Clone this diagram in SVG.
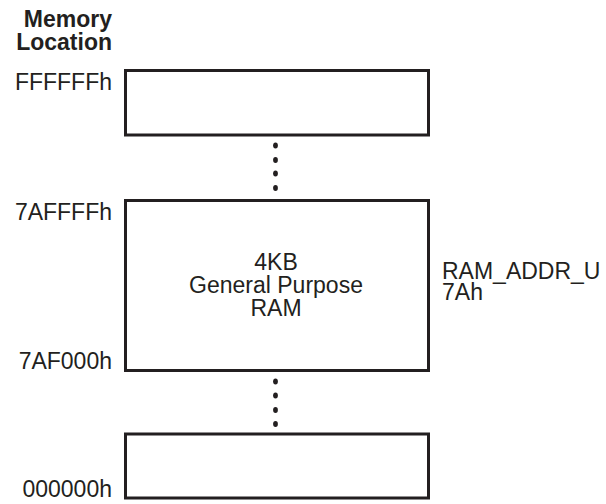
<svg xmlns="http://www.w3.org/2000/svg" width="606" height="504" viewBox="0 0 606 504">
<style>
text{font-family:"Liberation Sans",Arial,sans-serif;font-size:23px;fill:#231f20}
.b{font-weight:bold}
.r{text-anchor:end}
.m{text-anchor:middle}
.box{fill:#fff;stroke:#231f20;stroke-width:3}
.dot{fill:#231f20}
</style>
<rect width="606" height="504" fill="#fff"/>
<g id="header">
<text class="b r" x="112" y="27">Memory</text>
<text class="b r" x="112" y="49.5">Location</text>
</g>
<g id="top-block">
<rect class="box" x="125.5" y="70.5" width="303" height="64.5"/>
<text class="r" x="112" y="89.5">FFFFFFh</text>
</g>
<g id="ram-block">
<rect class="box" x="125.5" y="200.5" width="303" height="170"/>
<text class="r" x="112" y="220">7AFFFFh</text>
<text class="r" x="112" y="368.5">7AF000h</text>
<text class="m" x="276" y="270">4KB</text>
<text class="m" x="276" y="293">General Purpose</text>
<text class="m" x="276" y="316">RAM</text>
<text x="442" y="278.5">RAM_ADDR_U</text>
<text x="442" y="300">7Ah</text>
</g>
<g id="bottom-block">
<rect class="box" x="125.5" y="434" width="303" height="64"/>
<text class="r" x="112" y="497">000000h</text>
</g>
<g id="connectors">
<ellipse class="dot" cx="275.5" cy="145.5" rx="2.4" ry="3"/>
<ellipse class="dot" cx="275.5" cy="160" rx="2.4" ry="3"/>
<ellipse class="dot" cx="275.5" cy="173.5" rx="2.4" ry="3"/>
<ellipse class="dot" cx="275.5" cy="188" rx="2.4" ry="3"/>
<ellipse class="dot" cx="275.5" cy="381.5" rx="2.4" ry="3"/>
<ellipse class="dot" cx="275.5" cy="395.5" rx="2.4" ry="3"/>
<ellipse class="dot" cx="275.5" cy="410" rx="2.4" ry="3"/>
<ellipse class="dot" cx="275.5" cy="424" rx="2.4" ry="3"/>
</g>
</svg>
